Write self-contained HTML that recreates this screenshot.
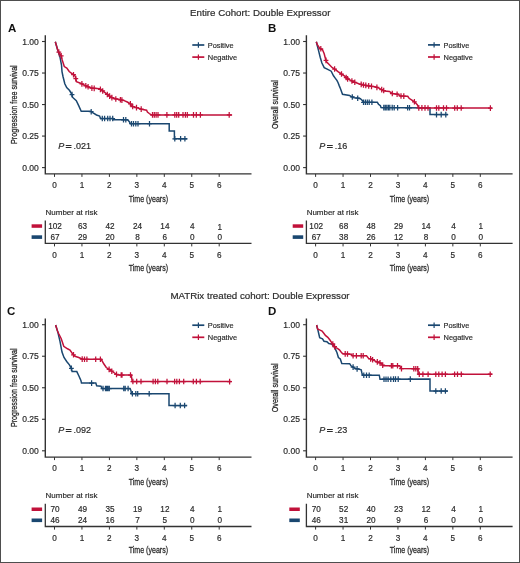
<!DOCTYPE html>
<html><head><meta charset="utf-8"><title>KM curves</title>
<style>html,body{margin:0;padding:0;background:#fff;width:520px;height:563px;overflow:hidden}</style>
</head><body>
<svg width="520" height="563" viewBox="0 0 520 563" style="display:block;will-change:transform">
<rect x="0" y="0" width="520" height="563" fill="#ffffff"/>
<g font-family='"Liberation Sans", sans-serif'>
<text x="260.20" y="15.80" font-size="9.75" fill="#2a2a2a" text-anchor="middle" textLength="140.40" lengthAdjust="spacingAndGlyphs" stroke="#2a2a2a" stroke-width="0.18">Entire Cohort: Double Expressor</text>
<text x="260.00" y="299.40" font-size="9.75" fill="#2a2a2a" text-anchor="middle" textLength="179.20" lengthAdjust="spacingAndGlyphs" stroke="#2a2a2a" stroke-width="0.18">MATRix treated cohort: Double Expressor</text>
<text x="8.00" y="31.80" font-size="11.5" fill="#111" font-weight="bold">A</text>
<path d="M45.30,35.30 V173.90 H251.50" fill="none" stroke="#333333" stroke-width="1.4"/>
<line x1="42.00" y1="167.60" x2="45.30" y2="167.60" stroke="#333333" stroke-width="1.1" stroke-linecap="butt"/>
<text x="38.80" y="170.80" font-size="8.5" fill="#2a2a2a" text-anchor="end" textLength="16.60" lengthAdjust="spacingAndGlyphs" stroke="#2a2a2a" stroke-width="0.18">0.00</text>
<line x1="42.00" y1="136.07" x2="45.30" y2="136.07" stroke="#333333" stroke-width="1.1" stroke-linecap="butt"/>
<text x="38.80" y="139.27" font-size="8.5" fill="#2a2a2a" text-anchor="end" textLength="16.60" lengthAdjust="spacingAndGlyphs" stroke="#2a2a2a" stroke-width="0.18">0.25</text>
<line x1="42.00" y1="104.55" x2="45.30" y2="104.55" stroke="#333333" stroke-width="1.1" stroke-linecap="butt"/>
<text x="38.80" y="107.75" font-size="8.5" fill="#2a2a2a" text-anchor="end" textLength="16.60" lengthAdjust="spacingAndGlyphs" stroke="#2a2a2a" stroke-width="0.18">0.50</text>
<line x1="42.00" y1="73.03" x2="45.30" y2="73.03" stroke="#333333" stroke-width="1.1" stroke-linecap="butt"/>
<text x="38.80" y="76.23" font-size="8.5" fill="#2a2a2a" text-anchor="end" textLength="16.60" lengthAdjust="spacingAndGlyphs" stroke="#2a2a2a" stroke-width="0.18">0.75</text>
<line x1="42.00" y1="41.50" x2="45.30" y2="41.50" stroke="#333333" stroke-width="1.1" stroke-linecap="butt"/>
<text x="38.80" y="44.70" font-size="8.5" fill="#2a2a2a" text-anchor="end" textLength="16.60" lengthAdjust="spacingAndGlyphs" stroke="#2a2a2a" stroke-width="0.18">1.00</text>
<line x1="54.50" y1="173.90" x2="54.50" y2="176.90" stroke="#333333" stroke-width="1.0" stroke-linecap="butt"/>
<text x="54.50" y="187.80" font-size="8.2" fill="#2a2a2a" text-anchor="middle" stroke="#2a2a2a" stroke-width="0.18">0</text>
<line x1="81.95" y1="173.90" x2="81.95" y2="176.90" stroke="#333333" stroke-width="1.0" stroke-linecap="butt"/>
<text x="81.95" y="187.80" font-size="8.2" fill="#2a2a2a" text-anchor="middle" stroke="#2a2a2a" stroke-width="0.18">1</text>
<line x1="109.40" y1="173.90" x2="109.40" y2="176.90" stroke="#333333" stroke-width="1.0" stroke-linecap="butt"/>
<text x="109.40" y="187.80" font-size="8.2" fill="#2a2a2a" text-anchor="middle" stroke="#2a2a2a" stroke-width="0.18">2</text>
<line x1="136.85" y1="173.90" x2="136.85" y2="176.90" stroke="#333333" stroke-width="1.0" stroke-linecap="butt"/>
<text x="136.85" y="187.80" font-size="8.2" fill="#2a2a2a" text-anchor="middle" stroke="#2a2a2a" stroke-width="0.18">3</text>
<line x1="164.30" y1="173.90" x2="164.30" y2="176.90" stroke="#333333" stroke-width="1.0" stroke-linecap="butt"/>
<text x="164.30" y="187.80" font-size="8.2" fill="#2a2a2a" text-anchor="middle" stroke="#2a2a2a" stroke-width="0.18">4</text>
<line x1="191.75" y1="173.90" x2="191.75" y2="176.90" stroke="#333333" stroke-width="1.0" stroke-linecap="butt"/>
<text x="191.75" y="187.80" font-size="8.2" fill="#2a2a2a" text-anchor="middle" stroke="#2a2a2a" stroke-width="0.18">5</text>
<line x1="219.20" y1="173.90" x2="219.20" y2="176.90" stroke="#333333" stroke-width="1.0" stroke-linecap="butt"/>
<text x="219.20" y="187.80" font-size="8.2" fill="#2a2a2a" text-anchor="middle" stroke="#2a2a2a" stroke-width="0.18">6</text>
<text x="148.40" y="202.10" font-size="9.8" fill="#2a2a2a" text-anchor="middle" textLength="39.40" lengthAdjust="spacingAndGlyphs" stroke="#2a2a2a" stroke-width="0.3">Time (years)</text>
<text x="16.60" y="104.60" font-size="9.8" fill="#2a2a2a" text-anchor="middle" textLength="78.60" lengthAdjust="spacingAndGlyphs" transform="rotate(-90 16.60 104.60)" stroke="#2a2a2a" stroke-width="0.3">Progression free survival</text>
<line x1="192.30" y1="45.00" x2="204.30" y2="45.00" stroke="#1a4770" stroke-width="1.7" stroke-linecap="butt"/>
<line x1="198.40" y1="42.30" x2="198.40" y2="47.70" stroke="#1a4770" stroke-width="1.2" stroke-linecap="butt"/>
<text x="207.80" y="47.60" font-size="7.8" fill="#2a2a2a" textLength="25.80" lengthAdjust="spacingAndGlyphs" stroke="#2a2a2a" stroke-width="0.18">Positive</text>
<line x1="192.30" y1="57.10" x2="204.30" y2="57.10" stroke="#c1113a" stroke-width="1.7" stroke-linecap="butt"/>
<line x1="198.40" y1="54.40" x2="198.40" y2="59.80" stroke="#c1113a" stroke-width="1.2" stroke-linecap="butt"/>
<text x="207.80" y="59.70" font-size="7.8" fill="#2a2a2a" textLength="29.40" lengthAdjust="spacingAndGlyphs" stroke="#2a2a2a" stroke-width="0.18">Negative</text>
<text x="58.20" y="149.40" font-size="9" fill="#2a2a2a" font-style="italic" stroke="#2a2a2a" stroke-width="0.18">P</text>
<text x="65.60" y="149.40" font-size="9" fill="#2a2a2a" textLength="6.20" lengthAdjust="spacingAndGlyphs" stroke="#2a2a2a" stroke-width="0.45">=</text>
<text x="73.60" y="149.40" font-size="9" fill="#2a2a2a" stroke="#2a2a2a" stroke-width="0.18">.021</text>
<path d="M55.30,41.70 L57.70,50.00 L60.00,57.20 L61.50,65.00 L62.00,71.60 L63.00,76.50 L64.80,83.80 L66.70,87.60 L69.60,90.50 L72.00,94.50 L72.50,97.20 L76.30,100.60 L78.80,105.90 L81.20,111.20 L90.40,111.20 L92.70,112.70 L96.50,115.00 L99.60,116.10 L100.50,118.50 L113.00,118.50 L113.60,119.80 L127.70,119.80 L129.50,122.00 L130.40,123.70 L169.20,123.70 L169.20,131.10 L174.40,131.10 L174.40,138.80 L187.30,138.80" fill="none" stroke="#1a4770" stroke-width="1.5" stroke-linejoin="miter"/>
<path d="M72.00,91.70 V97.30 M69.60,94.50 H74.40 M91.20,108.92 V114.52 M88.80,111.72 H93.60 M102.30,115.70 V121.30 M99.90,118.50 H104.70 M104.60,115.70 V121.30 M102.20,118.50 H107.00 M107.70,115.70 V121.30 M105.30,118.50 H110.10 M110.00,115.70 V121.30 M107.60,118.50 H112.40 M112.70,115.70 V121.30 M110.30,118.50 H115.10 M123.50,117.00 V122.60 M121.10,119.80 H125.90 M125.80,117.00 V122.60 M123.40,119.80 H128.20 M131.50,120.90 V126.50 M129.10,123.70 H133.90 M133.50,120.90 V126.50 M131.10,123.70 H135.90 M135.80,120.90 V126.50 M133.40,123.70 H138.20 M138.00,120.90 V126.50 M135.60,123.70 H140.40 M149.50,120.90 V126.50 M147.10,123.70 H151.90 M174.80,136.00 V141.60 M172.40,138.80 H177.20 M180.60,136.00 V141.60 M178.20,138.80 H183.00 M184.90,136.00 V141.60 M182.50,138.80 H187.30" fill="none" stroke="#1a4770" stroke-width="1.25"/>
<path d="M55.30,41.70 L57.70,50.00 L59.00,52.40 L61.50,56.30 L62.20,60.00 L64.30,66.60 L66.80,68.10 L69.20,71.50 L73.00,74.30 L75.30,76.30 L76.50,81.80 L81.20,83.50 L85.80,85.80 L91.20,88.10 L99.60,88.80 L102.00,90.40 L105.00,92.70 L108.00,95.00 L111.20,97.30 L115.00,98.80 L119.60,99.60 L124.20,100.60 L127.30,102.00 L130.40,103.80 L132.70,106.50 L138.00,108.00 L142.70,109.60 L146.60,110.20 L147.40,112.00 L149.30,113.50 L151.20,114.90 L232.10,114.90" fill="none" stroke="#c1113a" stroke-width="1.5" stroke-linejoin="miter"/>
<path d="M58.80,49.23 V54.83 M56.40,52.03 H61.20 M61.20,53.03 V58.63 M58.80,55.83 H63.60 M73.50,71.93 V77.53 M71.10,74.73 H75.90 M75.80,75.79 V81.39 M73.40,78.59 H78.20 M81.90,81.05 V86.65 M79.50,83.85 H84.30 M85.80,83.00 V88.60 M83.40,85.80 H88.20 M88.10,83.98 V89.58 M85.70,86.78 H90.50 M91.90,85.36 V90.96 M89.50,88.16 H94.30 M94.20,85.55 V91.15 M91.80,88.35 H96.60 M100.40,86.53 V92.13 M98.00,89.33 H102.80 M102.70,88.14 V93.74 M100.30,90.94 H105.10 M107.30,91.66 V97.26 M104.90,94.46 H109.70 M109.60,93.35 V98.95 M107.20,96.15 H112.00 M111.90,94.78 V100.38 M109.50,97.58 H114.30 M115.80,96.14 V101.74 M113.40,98.94 H118.20 M120.40,96.97 V102.57 M118.00,99.77 H122.80 M121.90,97.30 V102.90 M119.50,100.10 H124.30 M130.40,101.00 V106.60 M128.00,103.80 H132.80 M132.70,103.70 V109.30 M130.30,106.50 H135.10 M136.50,104.78 V110.38 M134.10,107.58 H138.90 M141.20,106.29 V111.89 M138.80,109.09 H143.60 M152.50,112.10 V117.70 M150.10,114.90 H154.90 M154.30,112.10 V117.70 M151.90,114.90 H156.70 M156.10,112.10 V117.70 M153.70,114.90 H158.50 M158.00,112.10 V117.70 M155.60,114.90 H160.40 M166.90,112.10 V117.70 M164.50,114.90 H169.30 M174.80,112.10 V117.70 M172.40,114.90 H177.20 M176.70,112.10 V117.70 M174.30,114.90 H179.10 M178.70,112.10 V117.70 M176.30,114.90 H181.10 M183.00,112.10 V117.70 M180.60,114.90 H185.40 M185.40,112.10 V117.70 M183.00,114.90 H187.80 M187.30,112.10 V117.70 M184.90,114.90 H189.70 M193.50,112.10 V117.70 M191.10,114.90 H195.90 M196.30,112.10 V117.70 M193.90,114.90 H198.70 M200.40,112.10 V117.70 M198.00,114.90 H202.80 M229.20,112.10 V117.70 M226.80,114.90 H231.60" fill="none" stroke="#c1113a" stroke-width="1.25"/>
<text x="45.60" y="214.80" font-size="7.9" fill="#2a2a2a" textLength="51.80" lengthAdjust="spacingAndGlyphs" stroke="#2a2a2a" stroke-width="0.18">Number at risk</text>
<rect x="31.60" y="224.30" width="10.5" height="3.5" fill="#c1113a"/>
<rect x="31.60" y="235.30" width="10.5" height="3.6" fill="#1a4770"/>
<path d="M45.30,220.60 V243.30 H251.50" fill="none" stroke="#333333" stroke-width="1.3"/>
<line x1="54.50" y1="243.30" x2="54.50" y2="246.40" stroke="#333333" stroke-width="1.0" stroke-linecap="butt"/>
<text x="54.50" y="258.00" font-size="8.2" fill="#2a2a2a" text-anchor="middle" stroke="#2a2a2a" stroke-width="0.18">0</text>
<text x="55.10" y="228.80" font-size="8.2" fill="#2a2a2a" text-anchor="middle" stroke="#2a2a2a" stroke-width="0.18">102</text>
<text x="55.10" y="239.70" font-size="8.2" fill="#2a2a2a" text-anchor="middle" stroke="#2a2a2a" stroke-width="0.18">67</text>
<line x1="81.95" y1="243.30" x2="81.95" y2="246.40" stroke="#333333" stroke-width="1.0" stroke-linecap="butt"/>
<text x="81.95" y="258.00" font-size="8.2" fill="#2a2a2a" text-anchor="middle" stroke="#2a2a2a" stroke-width="0.18">1</text>
<text x="82.55" y="228.80" font-size="8.2" fill="#2a2a2a" text-anchor="middle" stroke="#2a2a2a" stroke-width="0.18">63</text>
<text x="82.55" y="239.70" font-size="8.2" fill="#2a2a2a" text-anchor="middle" stroke="#2a2a2a" stroke-width="0.18">29</text>
<line x1="109.40" y1="243.30" x2="109.40" y2="246.40" stroke="#333333" stroke-width="1.0" stroke-linecap="butt"/>
<text x="109.40" y="258.00" font-size="8.2" fill="#2a2a2a" text-anchor="middle" stroke="#2a2a2a" stroke-width="0.18">2</text>
<text x="110.00" y="228.80" font-size="8.2" fill="#2a2a2a" text-anchor="middle" stroke="#2a2a2a" stroke-width="0.18">42</text>
<text x="110.00" y="239.70" font-size="8.2" fill="#2a2a2a" text-anchor="middle" stroke="#2a2a2a" stroke-width="0.18">20</text>
<line x1="136.85" y1="243.30" x2="136.85" y2="246.40" stroke="#333333" stroke-width="1.0" stroke-linecap="butt"/>
<text x="136.85" y="258.00" font-size="8.2" fill="#2a2a2a" text-anchor="middle" stroke="#2a2a2a" stroke-width="0.18">3</text>
<text x="137.45" y="228.80" font-size="8.2" fill="#2a2a2a" text-anchor="middle" stroke="#2a2a2a" stroke-width="0.18">24</text>
<text x="137.45" y="239.70" font-size="8.2" fill="#2a2a2a" text-anchor="middle" stroke="#2a2a2a" stroke-width="0.18">8</text>
<line x1="164.30" y1="243.30" x2="164.30" y2="246.40" stroke="#333333" stroke-width="1.0" stroke-linecap="butt"/>
<text x="164.30" y="258.00" font-size="8.2" fill="#2a2a2a" text-anchor="middle" stroke="#2a2a2a" stroke-width="0.18">4</text>
<text x="164.90" y="228.80" font-size="8.2" fill="#2a2a2a" text-anchor="middle" stroke="#2a2a2a" stroke-width="0.18">14</text>
<text x="164.90" y="239.70" font-size="8.2" fill="#2a2a2a" text-anchor="middle" stroke="#2a2a2a" stroke-width="0.18">6</text>
<line x1="191.75" y1="243.30" x2="191.75" y2="246.40" stroke="#333333" stroke-width="1.0" stroke-linecap="butt"/>
<text x="191.75" y="258.00" font-size="8.2" fill="#2a2a2a" text-anchor="middle" stroke="#2a2a2a" stroke-width="0.18">5</text>
<text x="192.35" y="228.80" font-size="8.2" fill="#2a2a2a" text-anchor="middle" stroke="#2a2a2a" stroke-width="0.18">4</text>
<text x="192.35" y="239.70" font-size="8.2" fill="#2a2a2a" text-anchor="middle" stroke="#2a2a2a" stroke-width="0.18">0</text>
<line x1="219.20" y1="243.30" x2="219.20" y2="246.40" stroke="#333333" stroke-width="1.0" stroke-linecap="butt"/>
<text x="219.20" y="258.00" font-size="8.2" fill="#2a2a2a" text-anchor="middle" stroke="#2a2a2a" stroke-width="0.18">6</text>
<text x="219.80" y="229.70" font-size="8.2" fill="#2a2a2a" text-anchor="middle" stroke="#2a2a2a" stroke-width="0.18">1</text>
<text x="219.80" y="239.70" font-size="8.2" fill="#2a2a2a" text-anchor="middle" stroke="#2a2a2a" stroke-width="0.18">0</text>
<text x="148.40" y="271.30" font-size="9.8" fill="#2a2a2a" text-anchor="middle" textLength="39.40" lengthAdjust="spacingAndGlyphs" stroke="#2a2a2a" stroke-width="0.3">Time (years)</text>
<text x="268.10" y="31.80" font-size="11.5" fill="#111" font-weight="bold">B</text>
<path d="M306.40,35.30 V173.90 H512.60" fill="none" stroke="#333333" stroke-width="1.4"/>
<line x1="303.10" y1="167.60" x2="306.40" y2="167.60" stroke="#333333" stroke-width="1.1" stroke-linecap="butt"/>
<text x="299.90" y="170.80" font-size="8.5" fill="#2a2a2a" text-anchor="end" textLength="16.60" lengthAdjust="spacingAndGlyphs" stroke="#2a2a2a" stroke-width="0.18">0.00</text>
<line x1="303.10" y1="136.07" x2="306.40" y2="136.07" stroke="#333333" stroke-width="1.1" stroke-linecap="butt"/>
<text x="299.90" y="139.27" font-size="8.5" fill="#2a2a2a" text-anchor="end" textLength="16.60" lengthAdjust="spacingAndGlyphs" stroke="#2a2a2a" stroke-width="0.18">0.25</text>
<line x1="303.10" y1="104.55" x2="306.40" y2="104.55" stroke="#333333" stroke-width="1.1" stroke-linecap="butt"/>
<text x="299.90" y="107.75" font-size="8.5" fill="#2a2a2a" text-anchor="end" textLength="16.60" lengthAdjust="spacingAndGlyphs" stroke="#2a2a2a" stroke-width="0.18">0.50</text>
<line x1="303.10" y1="73.03" x2="306.40" y2="73.03" stroke="#333333" stroke-width="1.1" stroke-linecap="butt"/>
<text x="299.90" y="76.23" font-size="8.5" fill="#2a2a2a" text-anchor="end" textLength="16.60" lengthAdjust="spacingAndGlyphs" stroke="#2a2a2a" stroke-width="0.18">0.75</text>
<line x1="303.10" y1="41.50" x2="306.40" y2="41.50" stroke="#333333" stroke-width="1.1" stroke-linecap="butt"/>
<text x="299.90" y="44.70" font-size="8.5" fill="#2a2a2a" text-anchor="end" textLength="16.60" lengthAdjust="spacingAndGlyphs" stroke="#2a2a2a" stroke-width="0.18">1.00</text>
<line x1="315.60" y1="173.90" x2="315.60" y2="176.90" stroke="#333333" stroke-width="1.0" stroke-linecap="butt"/>
<text x="315.60" y="187.80" font-size="8.2" fill="#2a2a2a" text-anchor="middle" stroke="#2a2a2a" stroke-width="0.18">0</text>
<line x1="343.05" y1="173.90" x2="343.05" y2="176.90" stroke="#333333" stroke-width="1.0" stroke-linecap="butt"/>
<text x="343.05" y="187.80" font-size="8.2" fill="#2a2a2a" text-anchor="middle" stroke="#2a2a2a" stroke-width="0.18">1</text>
<line x1="370.50" y1="173.90" x2="370.50" y2="176.90" stroke="#333333" stroke-width="1.0" stroke-linecap="butt"/>
<text x="370.50" y="187.80" font-size="8.2" fill="#2a2a2a" text-anchor="middle" stroke="#2a2a2a" stroke-width="0.18">2</text>
<line x1="397.95" y1="173.90" x2="397.95" y2="176.90" stroke="#333333" stroke-width="1.0" stroke-linecap="butt"/>
<text x="397.95" y="187.80" font-size="8.2" fill="#2a2a2a" text-anchor="middle" stroke="#2a2a2a" stroke-width="0.18">3</text>
<line x1="425.40" y1="173.90" x2="425.40" y2="176.90" stroke="#333333" stroke-width="1.0" stroke-linecap="butt"/>
<text x="425.40" y="187.80" font-size="8.2" fill="#2a2a2a" text-anchor="middle" stroke="#2a2a2a" stroke-width="0.18">4</text>
<line x1="452.85" y1="173.90" x2="452.85" y2="176.90" stroke="#333333" stroke-width="1.0" stroke-linecap="butt"/>
<text x="452.85" y="187.80" font-size="8.2" fill="#2a2a2a" text-anchor="middle" stroke="#2a2a2a" stroke-width="0.18">5</text>
<line x1="480.30" y1="173.90" x2="480.30" y2="176.90" stroke="#333333" stroke-width="1.0" stroke-linecap="butt"/>
<text x="480.30" y="187.80" font-size="8.2" fill="#2a2a2a" text-anchor="middle" stroke="#2a2a2a" stroke-width="0.18">6</text>
<text x="409.50" y="202.10" font-size="9.8" fill="#2a2a2a" text-anchor="middle" textLength="39.40" lengthAdjust="spacingAndGlyphs" stroke="#2a2a2a" stroke-width="0.3">Time (years)</text>
<text x="277.70" y="104.60" font-size="9.8" fill="#2a2a2a" text-anchor="middle" textLength="48.80" lengthAdjust="spacingAndGlyphs" transform="rotate(-90 277.70 104.60)" stroke="#2a2a2a" stroke-width="0.3">Overall survival</text>
<line x1="428.00" y1="44.90" x2="440.00" y2="44.90" stroke="#1a4770" stroke-width="1.7" stroke-linecap="butt"/>
<line x1="434.10" y1="42.20" x2="434.10" y2="47.60" stroke="#1a4770" stroke-width="1.2" stroke-linecap="butt"/>
<text x="443.50" y="47.50" font-size="7.8" fill="#2a2a2a" textLength="25.80" lengthAdjust="spacingAndGlyphs" stroke="#2a2a2a" stroke-width="0.18">Positive</text>
<line x1="428.00" y1="57.00" x2="440.00" y2="57.00" stroke="#c1113a" stroke-width="1.7" stroke-linecap="butt"/>
<line x1="434.10" y1="54.30" x2="434.10" y2="59.70" stroke="#c1113a" stroke-width="1.2" stroke-linecap="butt"/>
<text x="443.50" y="59.60" font-size="7.8" fill="#2a2a2a" textLength="29.40" lengthAdjust="spacingAndGlyphs" stroke="#2a2a2a" stroke-width="0.18">Negative</text>
<text x="319.30" y="149.40" font-size="9" fill="#2a2a2a" font-style="italic" stroke="#2a2a2a" stroke-width="0.18">P</text>
<text x="326.70" y="149.40" font-size="9" fill="#2a2a2a" textLength="6.20" lengthAdjust="spacingAndGlyphs" stroke="#2a2a2a" stroke-width="0.45">=</text>
<text x="334.70" y="149.40" font-size="9" fill="#2a2a2a" stroke="#2a2a2a" stroke-width="0.18">.16</text>
<path d="M316.30,41.70 L318.50,50.40 L320.20,57.30 L321.90,63.00 L324.20,67.70 L327.70,69.40 L331.20,71.20 L333.50,75.80 L335.20,78.10 L336.90,80.40 L338.10,82.70 L339.20,85.60 L340.40,88.50 L342.50,94.30 L349.60,95.40 L351.20,96.50 L354.20,97.70 L357.30,98.10 L360.40,98.80 L362.30,100.40 L363.50,102.30 L377.30,102.30 L378.50,104.20 L380.40,105.80 L381.00,107.60 L430.00,107.90 L430.00,114.60 L448.00,114.60" fill="none" stroke="#1a4770" stroke-width="1.5" stroke-linejoin="miter"/>
<path d="M352.30,94.14 V99.74 M349.90,96.94 H354.70 M357.70,95.39 V100.99 M355.30,98.19 H360.10 M363.50,99.50 V105.10 M361.10,102.30 H365.90 M365.40,99.50 V105.10 M363.00,102.30 H367.80 M367.30,99.50 V105.10 M364.90,102.30 H369.70 M369.20,99.50 V105.10 M366.80,102.30 H371.60 M371.90,99.50 V105.10 M369.50,102.30 H374.30 M383.80,104.82 V110.42 M381.40,107.62 H386.20 M385.30,104.83 V110.43 M382.90,107.63 H387.70 M386.80,104.84 V110.44 M384.40,107.64 H389.20 M388.40,104.85 V110.45 M386.00,107.65 H390.80 M389.80,104.85 V110.45 M387.40,107.65 H392.20 M392.20,104.87 V110.47 M389.80,107.67 H394.60 M394.20,104.88 V110.48 M391.80,107.68 H396.60 M397.60,104.90 V110.50 M395.20,107.70 H400.00 M407.60,104.96 V110.56 M405.20,107.76 H410.00 M409.50,104.97 V110.57 M407.10,107.77 H411.90 M436.50,111.80 V117.40 M434.10,114.60 H438.90 M441.20,111.80 V117.40 M438.80,114.60 H443.60 M445.80,111.80 V117.40 M443.40,114.60 H448.20" fill="none" stroke="#1a4770" stroke-width="1.25"/>
<path d="M316.30,41.70 L317.30,44.60 L319.60,48.10 L322.50,49.80 L324.20,53.80 L325.40,58.50 L326.50,61.90 L329.40,64.80 L332.30,67.70 L335.20,69.40 L338.00,71.70 L341.50,74.00 L345.00,76.30 L347.30,78.70 L350.80,80.40 L354.20,82.10 L358.80,83.80 L363.50,85.00 L370.40,86.20 L375.00,86.80 L377.90,87.70 L381.70,89.60 L384.60,91.00 L389.40,91.50 L392.30,93.50 L395.70,94.00 L398.60,94.40 L400.00,95.90 L407.70,96.30 L409.10,98.30 L411.50,99.90 L414.40,101.80 L417.30,104.60 L418.75,107.90 L491.90,108.10" fill="none" stroke="#c1113a" stroke-width="1.5" stroke-linejoin="miter"/>
<path d="M320.80,46.00 V51.60 M318.40,48.80 H323.20 M326.00,57.55 V63.15 M323.60,60.35 H328.40 M334.60,66.25 V71.85 M332.20,69.05 H337.00 M341.50,71.20 V76.80 M339.10,74.00 H343.90 M346.20,74.75 V80.35 M343.80,77.55 H348.60 M347.60,76.05 V81.65 M345.20,78.85 H350.00 M351.90,78.15 V83.75 M349.50,80.95 H354.30 M354.80,79.52 V85.12 M352.40,82.32 H357.20 M361.20,81.61 V87.21 M358.80,84.41 H363.60 M363.50,82.20 V87.80 M361.10,85.00 H365.90 M365.80,82.60 V88.20 M363.40,85.40 H368.20 M368.70,83.10 V88.70 M366.30,85.90 H371.10 M371.50,83.54 V89.14 M369.10,86.34 H373.90 M376.90,84.59 V90.19 M374.50,87.39 H379.30 M381.70,86.80 V92.40 M379.30,89.60 H384.10 M383.70,87.77 V93.37 M381.30,90.57 H386.10 M392.30,90.70 V96.30 M389.90,93.50 H394.70 M397.10,91.39 V96.99 M394.70,94.19 H399.50 M401.00,93.15 V98.75 M398.60,95.95 H403.40 M403.80,93.30 V98.90 M401.40,96.10 H406.20 M414.40,99.00 V104.60 M412.00,101.80 H416.80 M418.80,105.10 V110.70 M416.40,107.90 H421.20 M421.90,105.11 V110.71 M419.50,107.91 H424.30 M425.00,105.12 V110.72 M422.60,107.92 H427.40 M428.00,105.13 V110.73 M425.60,107.93 H430.40 M436.50,105.15 V110.75 M434.10,107.95 H438.90 M438.80,105.15 V110.75 M436.40,107.95 H441.20 M443.50,105.17 V110.77 M441.10,107.97 H445.90 M446.50,105.18 V110.78 M444.10,107.98 H448.90 M454.70,105.20 V110.80 M452.30,108.00 H457.10 M457.30,105.21 V110.81 M454.90,108.01 H459.70 M461.20,105.22 V110.82 M458.80,108.02 H463.60 M490.40,105.30 V110.90 M488.00,108.10 H492.80" fill="none" stroke="#c1113a" stroke-width="1.25"/>
<text x="306.70" y="214.80" font-size="7.9" fill="#2a2a2a" textLength="51.80" lengthAdjust="spacingAndGlyphs" stroke="#2a2a2a" stroke-width="0.18">Number at risk</text>
<rect x="292.70" y="224.30" width="10.5" height="3.5" fill="#c1113a"/>
<rect x="292.70" y="235.30" width="10.5" height="3.6" fill="#1a4770"/>
<path d="M306.40,220.60 V243.30 H512.60" fill="none" stroke="#333333" stroke-width="1.3"/>
<line x1="315.60" y1="243.30" x2="315.60" y2="246.40" stroke="#333333" stroke-width="1.0" stroke-linecap="butt"/>
<text x="315.60" y="258.00" font-size="8.2" fill="#2a2a2a" text-anchor="middle" stroke="#2a2a2a" stroke-width="0.18">0</text>
<text x="316.20" y="228.80" font-size="8.2" fill="#2a2a2a" text-anchor="middle" stroke="#2a2a2a" stroke-width="0.18">102</text>
<text x="316.20" y="239.70" font-size="8.2" fill="#2a2a2a" text-anchor="middle" stroke="#2a2a2a" stroke-width="0.18">67</text>
<line x1="343.05" y1="243.30" x2="343.05" y2="246.40" stroke="#333333" stroke-width="1.0" stroke-linecap="butt"/>
<text x="343.05" y="258.00" font-size="8.2" fill="#2a2a2a" text-anchor="middle" stroke="#2a2a2a" stroke-width="0.18">1</text>
<text x="343.65" y="228.80" font-size="8.2" fill="#2a2a2a" text-anchor="middle" stroke="#2a2a2a" stroke-width="0.18">68</text>
<text x="343.65" y="239.70" font-size="8.2" fill="#2a2a2a" text-anchor="middle" stroke="#2a2a2a" stroke-width="0.18">38</text>
<line x1="370.50" y1="243.30" x2="370.50" y2="246.40" stroke="#333333" stroke-width="1.0" stroke-linecap="butt"/>
<text x="370.50" y="258.00" font-size="8.2" fill="#2a2a2a" text-anchor="middle" stroke="#2a2a2a" stroke-width="0.18">2</text>
<text x="371.10" y="228.80" font-size="8.2" fill="#2a2a2a" text-anchor="middle" stroke="#2a2a2a" stroke-width="0.18">48</text>
<text x="371.10" y="239.70" font-size="8.2" fill="#2a2a2a" text-anchor="middle" stroke="#2a2a2a" stroke-width="0.18">26</text>
<line x1="397.95" y1="243.30" x2="397.95" y2="246.40" stroke="#333333" stroke-width="1.0" stroke-linecap="butt"/>
<text x="397.95" y="258.00" font-size="8.2" fill="#2a2a2a" text-anchor="middle" stroke="#2a2a2a" stroke-width="0.18">3</text>
<text x="398.55" y="228.80" font-size="8.2" fill="#2a2a2a" text-anchor="middle" stroke="#2a2a2a" stroke-width="0.18">29</text>
<text x="398.55" y="239.70" font-size="8.2" fill="#2a2a2a" text-anchor="middle" stroke="#2a2a2a" stroke-width="0.18">12</text>
<line x1="425.40" y1="243.30" x2="425.40" y2="246.40" stroke="#333333" stroke-width="1.0" stroke-linecap="butt"/>
<text x="425.40" y="258.00" font-size="8.2" fill="#2a2a2a" text-anchor="middle" stroke="#2a2a2a" stroke-width="0.18">4</text>
<text x="426.00" y="228.80" font-size="8.2" fill="#2a2a2a" text-anchor="middle" stroke="#2a2a2a" stroke-width="0.18">14</text>
<text x="426.00" y="239.70" font-size="8.2" fill="#2a2a2a" text-anchor="middle" stroke="#2a2a2a" stroke-width="0.18">8</text>
<line x1="452.85" y1="243.30" x2="452.85" y2="246.40" stroke="#333333" stroke-width="1.0" stroke-linecap="butt"/>
<text x="452.85" y="258.00" font-size="8.2" fill="#2a2a2a" text-anchor="middle" stroke="#2a2a2a" stroke-width="0.18">5</text>
<text x="453.45" y="228.80" font-size="8.2" fill="#2a2a2a" text-anchor="middle" stroke="#2a2a2a" stroke-width="0.18">4</text>
<text x="453.45" y="239.70" font-size="8.2" fill="#2a2a2a" text-anchor="middle" stroke="#2a2a2a" stroke-width="0.18">0</text>
<line x1="480.30" y1="243.30" x2="480.30" y2="246.40" stroke="#333333" stroke-width="1.0" stroke-linecap="butt"/>
<text x="480.30" y="258.00" font-size="8.2" fill="#2a2a2a" text-anchor="middle" stroke="#2a2a2a" stroke-width="0.18">6</text>
<text x="480.90" y="228.80" font-size="8.2" fill="#2a2a2a" text-anchor="middle" stroke="#2a2a2a" stroke-width="0.18">1</text>
<text x="480.90" y="239.70" font-size="8.2" fill="#2a2a2a" text-anchor="middle" stroke="#2a2a2a" stroke-width="0.18">0</text>
<text x="409.50" y="271.30" font-size="9.8" fill="#2a2a2a" text-anchor="middle" textLength="39.40" lengthAdjust="spacingAndGlyphs" stroke="#2a2a2a" stroke-width="0.3">Time (years)</text>
<text x="7.10" y="315.20" font-size="11.5" fill="#111" font-weight="bold">C</text>
<path d="M45.30,318.50 V457.10 H251.50" fill="none" stroke="#333333" stroke-width="1.4"/>
<line x1="42.00" y1="450.80" x2="45.30" y2="450.80" stroke="#333333" stroke-width="1.1" stroke-linecap="butt"/>
<text x="38.80" y="454.00" font-size="8.5" fill="#2a2a2a" text-anchor="end" textLength="16.60" lengthAdjust="spacingAndGlyphs" stroke="#2a2a2a" stroke-width="0.18">0.00</text>
<line x1="42.00" y1="419.27" x2="45.30" y2="419.27" stroke="#333333" stroke-width="1.1" stroke-linecap="butt"/>
<text x="38.80" y="422.47" font-size="8.5" fill="#2a2a2a" text-anchor="end" textLength="16.60" lengthAdjust="spacingAndGlyphs" stroke="#2a2a2a" stroke-width="0.18">0.25</text>
<line x1="42.00" y1="387.75" x2="45.30" y2="387.75" stroke="#333333" stroke-width="1.1" stroke-linecap="butt"/>
<text x="38.80" y="390.95" font-size="8.5" fill="#2a2a2a" text-anchor="end" textLength="16.60" lengthAdjust="spacingAndGlyphs" stroke="#2a2a2a" stroke-width="0.18">0.50</text>
<line x1="42.00" y1="356.23" x2="45.30" y2="356.23" stroke="#333333" stroke-width="1.1" stroke-linecap="butt"/>
<text x="38.80" y="359.43" font-size="8.5" fill="#2a2a2a" text-anchor="end" textLength="16.60" lengthAdjust="spacingAndGlyphs" stroke="#2a2a2a" stroke-width="0.18">0.75</text>
<line x1="42.00" y1="324.70" x2="45.30" y2="324.70" stroke="#333333" stroke-width="1.1" stroke-linecap="butt"/>
<text x="38.80" y="327.90" font-size="8.5" fill="#2a2a2a" text-anchor="end" textLength="16.60" lengthAdjust="spacingAndGlyphs" stroke="#2a2a2a" stroke-width="0.18">1.00</text>
<line x1="54.50" y1="457.10" x2="54.50" y2="460.10" stroke="#333333" stroke-width="1.0" stroke-linecap="butt"/>
<text x="54.50" y="471.00" font-size="8.2" fill="#2a2a2a" text-anchor="middle" stroke="#2a2a2a" stroke-width="0.18">0</text>
<line x1="81.95" y1="457.10" x2="81.95" y2="460.10" stroke="#333333" stroke-width="1.0" stroke-linecap="butt"/>
<text x="81.95" y="471.00" font-size="8.2" fill="#2a2a2a" text-anchor="middle" stroke="#2a2a2a" stroke-width="0.18">1</text>
<line x1="109.40" y1="457.10" x2="109.40" y2="460.10" stroke="#333333" stroke-width="1.0" stroke-linecap="butt"/>
<text x="109.40" y="471.00" font-size="8.2" fill="#2a2a2a" text-anchor="middle" stroke="#2a2a2a" stroke-width="0.18">2</text>
<line x1="136.85" y1="457.10" x2="136.85" y2="460.10" stroke="#333333" stroke-width="1.0" stroke-linecap="butt"/>
<text x="136.85" y="471.00" font-size="8.2" fill="#2a2a2a" text-anchor="middle" stroke="#2a2a2a" stroke-width="0.18">3</text>
<line x1="164.30" y1="457.10" x2="164.30" y2="460.10" stroke="#333333" stroke-width="1.0" stroke-linecap="butt"/>
<text x="164.30" y="471.00" font-size="8.2" fill="#2a2a2a" text-anchor="middle" stroke="#2a2a2a" stroke-width="0.18">4</text>
<line x1="191.75" y1="457.10" x2="191.75" y2="460.10" stroke="#333333" stroke-width="1.0" stroke-linecap="butt"/>
<text x="191.75" y="471.00" font-size="8.2" fill="#2a2a2a" text-anchor="middle" stroke="#2a2a2a" stroke-width="0.18">5</text>
<line x1="219.20" y1="457.10" x2="219.20" y2="460.10" stroke="#333333" stroke-width="1.0" stroke-linecap="butt"/>
<text x="219.20" y="471.00" font-size="8.2" fill="#2a2a2a" text-anchor="middle" stroke="#2a2a2a" stroke-width="0.18">6</text>
<text x="148.40" y="485.30" font-size="9.8" fill="#2a2a2a" text-anchor="middle" textLength="39.40" lengthAdjust="spacingAndGlyphs" stroke="#2a2a2a" stroke-width="0.3">Time (years)</text>
<text x="16.60" y="387.80" font-size="9.8" fill="#2a2a2a" text-anchor="middle" textLength="78.60" lengthAdjust="spacingAndGlyphs" transform="rotate(-90 16.60 387.80)" stroke="#2a2a2a" stroke-width="0.3">Progression free survival</text>
<line x1="192.30" y1="325.20" x2="204.30" y2="325.20" stroke="#1a4770" stroke-width="1.7" stroke-linecap="butt"/>
<line x1="198.40" y1="322.50" x2="198.40" y2="327.90" stroke="#1a4770" stroke-width="1.2" stroke-linecap="butt"/>
<text x="207.80" y="327.80" font-size="7.8" fill="#2a2a2a" textLength="25.80" lengthAdjust="spacingAndGlyphs" stroke="#2a2a2a" stroke-width="0.18">Positive</text>
<line x1="192.30" y1="337.30" x2="204.30" y2="337.30" stroke="#c1113a" stroke-width="1.7" stroke-linecap="butt"/>
<line x1="198.40" y1="334.60" x2="198.40" y2="340.00" stroke="#c1113a" stroke-width="1.2" stroke-linecap="butt"/>
<text x="207.80" y="339.90" font-size="7.8" fill="#2a2a2a" textLength="29.40" lengthAdjust="spacingAndGlyphs" stroke="#2a2a2a" stroke-width="0.18">Negative</text>
<text x="58.20" y="432.60" font-size="9" fill="#2a2a2a" font-style="italic" stroke="#2a2a2a" stroke-width="0.18">P</text>
<text x="65.60" y="432.60" font-size="9" fill="#2a2a2a" textLength="6.20" lengthAdjust="spacingAndGlyphs" stroke="#2a2a2a" stroke-width="0.45">=</text>
<text x="73.60" y="432.60" font-size="9" fill="#2a2a2a" stroke="#2a2a2a" stroke-width="0.18">.092</text>
<path d="M55.60,325.00 L57.70,331.60 L60.00,341.30 L62.00,352.10 L64.00,357.50 L66.70,361.50 L69.40,364.90 L71.40,368.30 L72.10,371.60 L76.80,371.60 L78.80,375.70 L80.90,380.40 L81.50,383.10 L95.80,383.10 L96.70,385.80 L101.00,386.20 L102.00,388.50 L130.00,388.50 L131.00,390.80 L131.40,393.70 L169.00,393.70 L169.00,405.50 L187.20,405.50" fill="none" stroke="#1a4770" stroke-width="1.5" stroke-linejoin="miter"/>
<path d="M71.40,365.50 V371.10 M69.00,368.30 H73.80 M91.60,380.30 V385.90 M89.20,383.10 H94.00 M103.00,385.70 V391.30 M100.60,388.50 H105.40 M106.30,385.70 V391.30 M103.90,388.50 H108.70 M108.75,385.70 V391.30 M106.35,388.50 H111.15 M105.50,385.70 V391.30 M103.10,388.50 H107.90 M107.40,385.70 V391.30 M105.00,388.50 H109.80 M109.30,385.70 V391.30 M106.90,388.50 H111.70 M123.75,385.70 V391.30 M121.35,388.50 H126.15 M125.20,385.70 V391.30 M122.80,388.50 H127.60 M128.10,385.70 V391.30 M125.70,388.50 H130.50 M132.40,390.90 V396.50 M130.00,393.70 H134.80 M135.80,390.90 V396.50 M133.40,393.70 H138.20 M137.70,390.90 V396.50 M135.30,393.70 H140.10 M149.20,390.90 V396.50 M146.80,393.70 H151.60 M175.10,402.70 V408.30 M172.70,405.50 H177.50 M180.30,402.70 V408.30 M177.90,405.50 H182.70 M184.60,402.70 V408.30 M182.20,405.50 H187.00" fill="none" stroke="#1a4770" stroke-width="1.25"/>
<path d="M55.60,325.00 L57.50,331.00 L58.75,333.75 L61.25,338.75 L63.75,346.25 L67.50,348.75 L70.00,350.00 L72.50,353.75 L75.00,356.25 L78.75,357.50 L82.50,359.30 L101.25,359.30 L103.75,363.75 L106.25,367.50 L110.00,370.00 L113.75,372.50 L117.50,375.00 L131.25,375.00 L132.20,381.50 L231.30,381.60" fill="none" stroke="#c1113a" stroke-width="1.5" stroke-linejoin="miter"/>
<path d="M73.50,351.95 V357.55 M71.10,354.75 H75.90 M82.20,356.36 V361.96 M79.80,359.16 H84.60 M84.50,356.50 V362.10 M82.10,359.30 H86.90 M86.90,356.50 V362.10 M84.50,359.30 H89.30 M95.70,356.50 V362.10 M93.30,359.30 H98.10 M100.40,356.50 V362.10 M98.00,359.30 H102.80 M109.10,366.60 V372.20 M106.70,369.40 H111.50 M111.80,368.40 V374.00 M109.40,371.20 H114.20 M116.50,371.53 V377.13 M114.10,374.33 H118.90 M121.20,372.20 V377.80 M118.80,375.00 H123.60 M122.00,372.20 V377.80 M119.60,375.00 H124.40 M130.50,372.20 V377.80 M128.10,375.00 H132.90 M132.90,378.70 V384.30 M130.50,381.50 H135.30 M136.70,378.70 V384.30 M134.30,381.50 H139.10 M141.00,378.71 V384.31 M138.60,381.51 H143.40 M153.10,378.72 V384.32 M150.70,381.52 H155.50 M155.40,378.72 V384.32 M153.00,381.52 H157.80 M157.80,378.73 V384.33 M155.40,381.53 H160.20 M167.00,378.74 V384.34 M164.60,381.54 H169.40 M174.60,378.74 V384.34 M172.20,381.54 H177.00 M176.80,378.75 V384.35 M174.40,381.55 H179.20 M179.40,378.75 V384.35 M177.00,381.55 H181.80 M183.70,378.75 V384.35 M181.30,381.55 H186.10 M193.30,378.76 V384.36 M190.90,381.56 H195.70 M196.40,378.76 V384.36 M194.00,381.56 H198.80 M200.20,378.77 V384.37 M197.80,381.57 H202.60 M229.60,378.80 V384.40 M227.20,381.60 H232.00" fill="none" stroke="#c1113a" stroke-width="1.25"/>
<text x="45.60" y="498.00" font-size="7.9" fill="#2a2a2a" textLength="51.80" lengthAdjust="spacingAndGlyphs" stroke="#2a2a2a" stroke-width="0.18">Number at risk</text>
<rect x="31.60" y="507.50" width="10.5" height="3.5" fill="#c1113a"/>
<rect x="31.60" y="518.50" width="10.5" height="3.6" fill="#1a4770"/>
<path d="M45.30,503.80 V526.50 H251.50" fill="none" stroke="#333333" stroke-width="1.3"/>
<line x1="54.50" y1="526.50" x2="54.50" y2="529.60" stroke="#333333" stroke-width="1.0" stroke-linecap="butt"/>
<text x="54.50" y="541.20" font-size="8.2" fill="#2a2a2a" text-anchor="middle" stroke="#2a2a2a" stroke-width="0.18">0</text>
<text x="55.10" y="512.00" font-size="8.2" fill="#2a2a2a" text-anchor="middle" stroke="#2a2a2a" stroke-width="0.18">70</text>
<text x="55.10" y="522.90" font-size="8.2" fill="#2a2a2a" text-anchor="middle" stroke="#2a2a2a" stroke-width="0.18">46</text>
<line x1="81.95" y1="526.50" x2="81.95" y2="529.60" stroke="#333333" stroke-width="1.0" stroke-linecap="butt"/>
<text x="81.95" y="541.20" font-size="8.2" fill="#2a2a2a" text-anchor="middle" stroke="#2a2a2a" stroke-width="0.18">1</text>
<text x="82.55" y="512.00" font-size="8.2" fill="#2a2a2a" text-anchor="middle" stroke="#2a2a2a" stroke-width="0.18">49</text>
<text x="82.55" y="522.90" font-size="8.2" fill="#2a2a2a" text-anchor="middle" stroke="#2a2a2a" stroke-width="0.18">24</text>
<line x1="109.40" y1="526.50" x2="109.40" y2="529.60" stroke="#333333" stroke-width="1.0" stroke-linecap="butt"/>
<text x="109.40" y="541.20" font-size="8.2" fill="#2a2a2a" text-anchor="middle" stroke="#2a2a2a" stroke-width="0.18">2</text>
<text x="110.00" y="512.00" font-size="8.2" fill="#2a2a2a" text-anchor="middle" stroke="#2a2a2a" stroke-width="0.18">35</text>
<text x="110.00" y="522.90" font-size="8.2" fill="#2a2a2a" text-anchor="middle" stroke="#2a2a2a" stroke-width="0.18">16</text>
<line x1="136.85" y1="526.50" x2="136.85" y2="529.60" stroke="#333333" stroke-width="1.0" stroke-linecap="butt"/>
<text x="136.85" y="541.20" font-size="8.2" fill="#2a2a2a" text-anchor="middle" stroke="#2a2a2a" stroke-width="0.18">3</text>
<text x="137.45" y="512.00" font-size="8.2" fill="#2a2a2a" text-anchor="middle" stroke="#2a2a2a" stroke-width="0.18">19</text>
<text x="137.45" y="522.90" font-size="8.2" fill="#2a2a2a" text-anchor="middle" stroke="#2a2a2a" stroke-width="0.18">7</text>
<line x1="164.30" y1="526.50" x2="164.30" y2="529.60" stroke="#333333" stroke-width="1.0" stroke-linecap="butt"/>
<text x="164.30" y="541.20" font-size="8.2" fill="#2a2a2a" text-anchor="middle" stroke="#2a2a2a" stroke-width="0.18">4</text>
<text x="164.90" y="512.00" font-size="8.2" fill="#2a2a2a" text-anchor="middle" stroke="#2a2a2a" stroke-width="0.18">12</text>
<text x="164.90" y="522.90" font-size="8.2" fill="#2a2a2a" text-anchor="middle" stroke="#2a2a2a" stroke-width="0.18">5</text>
<line x1="191.75" y1="526.50" x2="191.75" y2="529.60" stroke="#333333" stroke-width="1.0" stroke-linecap="butt"/>
<text x="191.75" y="541.20" font-size="8.2" fill="#2a2a2a" text-anchor="middle" stroke="#2a2a2a" stroke-width="0.18">5</text>
<text x="192.35" y="512.00" font-size="8.2" fill="#2a2a2a" text-anchor="middle" stroke="#2a2a2a" stroke-width="0.18">4</text>
<text x="192.35" y="522.90" font-size="8.2" fill="#2a2a2a" text-anchor="middle" stroke="#2a2a2a" stroke-width="0.18">0</text>
<line x1="219.20" y1="526.50" x2="219.20" y2="529.60" stroke="#333333" stroke-width="1.0" stroke-linecap="butt"/>
<text x="219.20" y="541.20" font-size="8.2" fill="#2a2a2a" text-anchor="middle" stroke="#2a2a2a" stroke-width="0.18">6</text>
<text x="219.80" y="512.00" font-size="8.2" fill="#2a2a2a" text-anchor="middle" stroke="#2a2a2a" stroke-width="0.18">1</text>
<text x="219.80" y="522.90" font-size="8.2" fill="#2a2a2a" text-anchor="middle" stroke="#2a2a2a" stroke-width="0.18">0</text>
<text x="148.40" y="553.00" font-size="9.8" fill="#2a2a2a" text-anchor="middle" textLength="39.40" lengthAdjust="spacingAndGlyphs" stroke="#2a2a2a" stroke-width="0.3">Time (years)</text>
<text x="268.10" y="315.20" font-size="11.5" fill="#111" font-weight="bold">D</text>
<path d="M306.40,318.50 V457.10 H512.60" fill="none" stroke="#333333" stroke-width="1.4"/>
<line x1="303.10" y1="450.80" x2="306.40" y2="450.80" stroke="#333333" stroke-width="1.1" stroke-linecap="butt"/>
<text x="299.90" y="454.00" font-size="8.5" fill="#2a2a2a" text-anchor="end" textLength="16.60" lengthAdjust="spacingAndGlyphs" stroke="#2a2a2a" stroke-width="0.18">0.00</text>
<line x1="303.10" y1="419.27" x2="306.40" y2="419.27" stroke="#333333" stroke-width="1.1" stroke-linecap="butt"/>
<text x="299.90" y="422.47" font-size="8.5" fill="#2a2a2a" text-anchor="end" textLength="16.60" lengthAdjust="spacingAndGlyphs" stroke="#2a2a2a" stroke-width="0.18">0.25</text>
<line x1="303.10" y1="387.75" x2="306.40" y2="387.75" stroke="#333333" stroke-width="1.1" stroke-linecap="butt"/>
<text x="299.90" y="390.95" font-size="8.5" fill="#2a2a2a" text-anchor="end" textLength="16.60" lengthAdjust="spacingAndGlyphs" stroke="#2a2a2a" stroke-width="0.18">0.50</text>
<line x1="303.10" y1="356.23" x2="306.40" y2="356.23" stroke="#333333" stroke-width="1.1" stroke-linecap="butt"/>
<text x="299.90" y="359.43" font-size="8.5" fill="#2a2a2a" text-anchor="end" textLength="16.60" lengthAdjust="spacingAndGlyphs" stroke="#2a2a2a" stroke-width="0.18">0.75</text>
<line x1="303.10" y1="324.70" x2="306.40" y2="324.70" stroke="#333333" stroke-width="1.1" stroke-linecap="butt"/>
<text x="299.90" y="327.90" font-size="8.5" fill="#2a2a2a" text-anchor="end" textLength="16.60" lengthAdjust="spacingAndGlyphs" stroke="#2a2a2a" stroke-width="0.18">1.00</text>
<line x1="315.60" y1="457.10" x2="315.60" y2="460.10" stroke="#333333" stroke-width="1.0" stroke-linecap="butt"/>
<text x="315.60" y="471.00" font-size="8.2" fill="#2a2a2a" text-anchor="middle" stroke="#2a2a2a" stroke-width="0.18">0</text>
<line x1="343.05" y1="457.10" x2="343.05" y2="460.10" stroke="#333333" stroke-width="1.0" stroke-linecap="butt"/>
<text x="343.05" y="471.00" font-size="8.2" fill="#2a2a2a" text-anchor="middle" stroke="#2a2a2a" stroke-width="0.18">1</text>
<line x1="370.50" y1="457.10" x2="370.50" y2="460.10" stroke="#333333" stroke-width="1.0" stroke-linecap="butt"/>
<text x="370.50" y="471.00" font-size="8.2" fill="#2a2a2a" text-anchor="middle" stroke="#2a2a2a" stroke-width="0.18">2</text>
<line x1="397.95" y1="457.10" x2="397.95" y2="460.10" stroke="#333333" stroke-width="1.0" stroke-linecap="butt"/>
<text x="397.95" y="471.00" font-size="8.2" fill="#2a2a2a" text-anchor="middle" stroke="#2a2a2a" stroke-width="0.18">3</text>
<line x1="425.40" y1="457.10" x2="425.40" y2="460.10" stroke="#333333" stroke-width="1.0" stroke-linecap="butt"/>
<text x="425.40" y="471.00" font-size="8.2" fill="#2a2a2a" text-anchor="middle" stroke="#2a2a2a" stroke-width="0.18">4</text>
<line x1="452.85" y1="457.10" x2="452.85" y2="460.10" stroke="#333333" stroke-width="1.0" stroke-linecap="butt"/>
<text x="452.85" y="471.00" font-size="8.2" fill="#2a2a2a" text-anchor="middle" stroke="#2a2a2a" stroke-width="0.18">5</text>
<line x1="480.30" y1="457.10" x2="480.30" y2="460.10" stroke="#333333" stroke-width="1.0" stroke-linecap="butt"/>
<text x="480.30" y="471.00" font-size="8.2" fill="#2a2a2a" text-anchor="middle" stroke="#2a2a2a" stroke-width="0.18">6</text>
<text x="409.50" y="485.30" font-size="9.8" fill="#2a2a2a" text-anchor="middle" textLength="39.40" lengthAdjust="spacingAndGlyphs" stroke="#2a2a2a" stroke-width="0.3">Time (years)</text>
<text x="277.70" y="387.80" font-size="9.8" fill="#2a2a2a" text-anchor="middle" textLength="48.80" lengthAdjust="spacingAndGlyphs" transform="rotate(-90 277.70 387.80)" stroke="#2a2a2a" stroke-width="0.3">Overall survival</text>
<line x1="428.00" y1="325.20" x2="440.00" y2="325.20" stroke="#1a4770" stroke-width="1.7" stroke-linecap="butt"/>
<line x1="434.10" y1="322.50" x2="434.10" y2="327.90" stroke="#1a4770" stroke-width="1.2" stroke-linecap="butt"/>
<text x="443.50" y="327.80" font-size="7.8" fill="#2a2a2a" textLength="25.80" lengthAdjust="spacingAndGlyphs" stroke="#2a2a2a" stroke-width="0.18">Positive</text>
<line x1="428.00" y1="337.30" x2="440.00" y2="337.30" stroke="#c1113a" stroke-width="1.7" stroke-linecap="butt"/>
<line x1="434.10" y1="334.60" x2="434.10" y2="340.00" stroke="#c1113a" stroke-width="1.2" stroke-linecap="butt"/>
<text x="443.50" y="339.90" font-size="7.8" fill="#2a2a2a" textLength="29.40" lengthAdjust="spacingAndGlyphs" stroke="#2a2a2a" stroke-width="0.18">Negative</text>
<text x="319.30" y="432.60" font-size="9" fill="#2a2a2a" font-style="italic" stroke="#2a2a2a" stroke-width="0.18">P</text>
<text x="326.70" y="432.60" font-size="9" fill="#2a2a2a" textLength="6.20" lengthAdjust="spacingAndGlyphs" stroke="#2a2a2a" stroke-width="0.45">=</text>
<text x="334.70" y="432.60" font-size="9" fill="#2a2a2a" stroke="#2a2a2a" stroke-width="0.18">.23</text>
<path d="M316.60,325.00 L317.70,329.20 L318.70,333.50 L319.70,337.80 L322.50,338.80 L324.00,341.20 L326.90,341.70 L328.80,343.60 L331.70,344.10 L333.60,346.00 L335.50,349.40 L337.00,352.70 L338.40,357.50 L340.30,359.00 L341.80,363.50 L349.70,363.70 L351.00,365.80 L353.10,367.10 L355.10,368.50 L358.50,369.10 L361.20,369.80 L361.80,372.50 L362.50,375.20 L379.30,375.20 L380.00,379.20 L430.00,379.10 L430.00,391.00 L447.90,391.00" fill="none" stroke="#1a4770" stroke-width="1.5" stroke-linejoin="miter"/>
<path d="M353.10,364.30 V369.90 M350.70,367.10 H355.50 M357.10,366.05 V371.65 M354.70,368.85 H359.50 M363.80,372.40 V378.00 M361.40,375.20 H366.20 M366.50,372.40 V378.00 M364.10,375.20 H368.90 M369.20,372.40 V378.00 M366.80,375.20 H371.60 M384.00,376.39 V381.99 M381.60,379.19 H386.40 M386.00,376.39 V381.99 M383.60,379.19 H388.40 M388.10,376.38 V381.98 M385.70,379.18 H390.50 M390.80,376.38 V381.98 M388.40,379.18 H393.20 M393.50,376.37 V381.97 M391.10,379.17 H395.90 M395.50,376.37 V381.97 M393.10,379.17 H397.90 M398.20,376.36 V381.96 M395.80,379.16 H400.60 M410.30,376.34 V381.94 M407.90,379.14 H412.70 M435.80,388.20 V393.80 M433.40,391.00 H438.20 M441.20,388.20 V393.80 M438.80,391.00 H443.60 M445.40,388.20 V393.80 M443.00,391.00 H447.80" fill="none" stroke="#1a4770" stroke-width="1.25"/>
<path d="M316.60,325.00 L317.70,329.20 L320.10,330.10 L322.10,331.10 L324.00,333.50 L325.40,335.40 L327.80,337.30 L329.75,339.75 L331.70,342.60 L333.60,345.00 L335.00,347.40 L337.40,348.40 L339.40,349.80 L341.30,352.25 L342.70,353.70 L351.40,354.20 L352.30,355.70 L366.50,355.70 L368.60,358.40 L371.20,359.00 L373.90,360.40 L376.60,361.70 L379.30,362.40 L381.30,363.70 L383.40,365.80 L399.80,365.80 L400.90,368.60 L418.10,368.80 L418.10,374.20 L492.10,374.20" fill="none" stroke="#c1113a" stroke-width="1.5" stroke-linejoin="miter"/>
<path d="M332.80,341.19 V346.79 M330.40,343.99 H335.20 M334.60,343.91 V349.51 M332.20,346.71 H337.00 M345.20,351.04 V356.64 M342.80,353.84 H347.60 M347.50,351.18 V356.78 M345.10,353.98 H349.90 M353.10,352.90 V358.50 M350.70,355.70 H355.50 M356.40,352.90 V358.50 M354.00,355.70 H358.80 M361.20,352.90 V358.50 M358.80,355.70 H363.60 M363.20,352.90 V358.50 M360.80,355.70 H365.60 M370.60,356.06 V361.66 M368.20,358.86 H373.00 M372.60,356.93 V362.53 M370.20,359.73 H375.00 M377.30,359.08 V364.68 M374.90,361.88 H379.70 M380.00,360.05 V365.65 M377.60,362.85 H382.40 M382.70,362.30 V367.90 M380.30,365.10 H385.10 M391.40,363.00 V368.60 M389.00,365.80 H393.80 M392.80,363.00 V368.60 M390.40,365.80 H395.20 M397.50,363.00 V368.60 M395.10,365.80 H399.90 M401.50,365.81 V371.41 M399.10,368.61 H403.90 M413.80,365.95 V371.55 M411.40,368.75 H416.20 M415.80,365.97 V371.57 M413.40,368.77 H418.20 M417.70,366.00 V371.60 M415.30,368.80 H420.10 M419.30,371.40 V377.00 M416.90,374.20 H421.70 M422.90,371.40 V377.00 M420.50,374.20 H425.30 M428.10,371.40 V377.00 M425.70,374.20 H430.50 M435.80,371.40 V377.00 M433.40,374.20 H438.20 M438.80,371.40 V377.00 M436.40,374.20 H441.20 M442.10,371.40 V377.00 M439.70,374.20 H444.50 M445.40,371.40 V377.00 M443.00,374.20 H447.80 M454.60,371.40 V377.00 M452.20,374.20 H457.00 M457.50,371.40 V377.00 M455.10,374.20 H459.90 M461.30,371.40 V377.00 M458.90,374.20 H463.70 M490.20,371.40 V377.00 M487.80,374.20 H492.60" fill="none" stroke="#c1113a" stroke-width="1.25"/>
<text x="306.70" y="498.00" font-size="7.9" fill="#2a2a2a" textLength="51.80" lengthAdjust="spacingAndGlyphs" stroke="#2a2a2a" stroke-width="0.18">Number at risk</text>
<rect x="289.30" y="507.50" width="10.5" height="3.5" fill="#c1113a"/>
<rect x="289.30" y="518.50" width="10.5" height="3.6" fill="#1a4770"/>
<path d="M306.40,503.80 V526.50 H512.60" fill="none" stroke="#333333" stroke-width="1.3"/>
<line x1="315.60" y1="526.50" x2="315.60" y2="529.60" stroke="#333333" stroke-width="1.0" stroke-linecap="butt"/>
<text x="315.60" y="541.20" font-size="8.2" fill="#2a2a2a" text-anchor="middle" stroke="#2a2a2a" stroke-width="0.18">0</text>
<text x="316.20" y="512.00" font-size="8.2" fill="#2a2a2a" text-anchor="middle" stroke="#2a2a2a" stroke-width="0.18">70</text>
<text x="316.20" y="522.90" font-size="8.2" fill="#2a2a2a" text-anchor="middle" stroke="#2a2a2a" stroke-width="0.18">46</text>
<line x1="343.05" y1="526.50" x2="343.05" y2="529.60" stroke="#333333" stroke-width="1.0" stroke-linecap="butt"/>
<text x="343.05" y="541.20" font-size="8.2" fill="#2a2a2a" text-anchor="middle" stroke="#2a2a2a" stroke-width="0.18">1</text>
<text x="343.65" y="512.00" font-size="8.2" fill="#2a2a2a" text-anchor="middle" stroke="#2a2a2a" stroke-width="0.18">52</text>
<text x="343.65" y="522.90" font-size="8.2" fill="#2a2a2a" text-anchor="middle" stroke="#2a2a2a" stroke-width="0.18">31</text>
<line x1="370.50" y1="526.50" x2="370.50" y2="529.60" stroke="#333333" stroke-width="1.0" stroke-linecap="butt"/>
<text x="370.50" y="541.20" font-size="8.2" fill="#2a2a2a" text-anchor="middle" stroke="#2a2a2a" stroke-width="0.18">2</text>
<text x="371.10" y="512.00" font-size="8.2" fill="#2a2a2a" text-anchor="middle" stroke="#2a2a2a" stroke-width="0.18">40</text>
<text x="371.10" y="522.90" font-size="8.2" fill="#2a2a2a" text-anchor="middle" stroke="#2a2a2a" stroke-width="0.18">20</text>
<line x1="397.95" y1="526.50" x2="397.95" y2="529.60" stroke="#333333" stroke-width="1.0" stroke-linecap="butt"/>
<text x="397.95" y="541.20" font-size="8.2" fill="#2a2a2a" text-anchor="middle" stroke="#2a2a2a" stroke-width="0.18">3</text>
<text x="398.55" y="512.00" font-size="8.2" fill="#2a2a2a" text-anchor="middle" stroke="#2a2a2a" stroke-width="0.18">23</text>
<text x="398.55" y="522.90" font-size="8.2" fill="#2a2a2a" text-anchor="middle" stroke="#2a2a2a" stroke-width="0.18">9</text>
<line x1="425.40" y1="526.50" x2="425.40" y2="529.60" stroke="#333333" stroke-width="1.0" stroke-linecap="butt"/>
<text x="425.40" y="541.20" font-size="8.2" fill="#2a2a2a" text-anchor="middle" stroke="#2a2a2a" stroke-width="0.18">4</text>
<text x="426.00" y="512.00" font-size="8.2" fill="#2a2a2a" text-anchor="middle" stroke="#2a2a2a" stroke-width="0.18">12</text>
<text x="426.00" y="522.90" font-size="8.2" fill="#2a2a2a" text-anchor="middle" stroke="#2a2a2a" stroke-width="0.18">6</text>
<line x1="452.85" y1="526.50" x2="452.85" y2="529.60" stroke="#333333" stroke-width="1.0" stroke-linecap="butt"/>
<text x="452.85" y="541.20" font-size="8.2" fill="#2a2a2a" text-anchor="middle" stroke="#2a2a2a" stroke-width="0.18">5</text>
<text x="453.45" y="512.00" font-size="8.2" fill="#2a2a2a" text-anchor="middle" stroke="#2a2a2a" stroke-width="0.18">4</text>
<text x="453.45" y="522.90" font-size="8.2" fill="#2a2a2a" text-anchor="middle" stroke="#2a2a2a" stroke-width="0.18">0</text>
<line x1="480.30" y1="526.50" x2="480.30" y2="529.60" stroke="#333333" stroke-width="1.0" stroke-linecap="butt"/>
<text x="480.30" y="541.20" font-size="8.2" fill="#2a2a2a" text-anchor="middle" stroke="#2a2a2a" stroke-width="0.18">6</text>
<text x="480.90" y="512.00" font-size="8.2" fill="#2a2a2a" text-anchor="middle" stroke="#2a2a2a" stroke-width="0.18">1</text>
<text x="480.90" y="522.90" font-size="8.2" fill="#2a2a2a" text-anchor="middle" stroke="#2a2a2a" stroke-width="0.18">0</text>
<text x="409.50" y="553.00" font-size="9.8" fill="#2a2a2a" text-anchor="middle" textLength="39.40" lengthAdjust="spacingAndGlyphs" stroke="#2a2a2a" stroke-width="0.3">Time (years)</text>
</g>
<rect x="0.5" y="0.5" width="519" height="562" fill="none" stroke="#4e4e4e" stroke-width="1"/>
</svg>
</body></html>
